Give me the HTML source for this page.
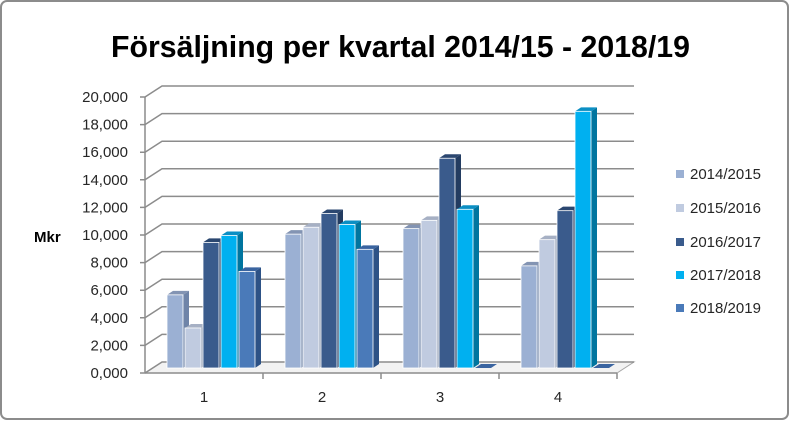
<!DOCTYPE html>
<html><head><meta charset="utf-8"><style>
html,body{margin:0;padding:0;background:#fff;}
svg{display:block;font-family:"Liberation Sans",sans-serif;}
</style></head><body>
<svg id="chart" width="794" height="425" viewBox="0 0 794 425" xmlns="http://www.w3.org/2000/svg">
<rect x="1" y="1" width="787" height="418" rx="6" fill="#fff" stroke="#8c8c8c" stroke-width="2"/>
<text x="111" y="57" font-size="31" font-weight="bold" textLength="579" lengthAdjust="spacingAndGlyphs" fill="#000">Försäljning per kvartal 2014/15 - 2018/19</text>
<text x="34" y="242" font-size="15" font-weight="bold" fill="#000">Mkr</text>
<g id="grid"></g><g id="bars"></g><g id="legend"></g>
</svg>
<script>
const categories = ["1","2","3","4"];
const seriesNames = ["2014/2015","2015/2016","2016/2017","2017/2018","2018/2019"];
const s2014 = [5300, 9700, 10100, 7400];
const s2015 = [2900, 10200, 10700, 9300];
const s2016 = [9100, 11200, 15200, 11400];
const s2017 = [9600, 10400, 11500, 18600];
const s2018 = [7000, 8600, 0, 0];
const yTicks = [0,2000,4000,6000,8000,10000,12000,14000,16000,18000,20000];
const yTickLabels = ["0,000","2,000","4,000","6,000","8,000","10,000","12,000","14,000","16,000","18,000","20,000"];

const series = [s2014,s2015,s2016,s2017,s2018];
const front = ["#9bb0d3","#c0cbe0","#3a5b8c","#00b0f0","#4a7ab9"];
const side  = ["#6f84a8","#909cb4","#233c61","#00759f","#2d5286"];
const topc  = ["#8394b3","#a6b0c4","#2b4770","#0b8fc4","#3a64a0"];
const NS="http://www.w3.org/2000/svg";
const X0=145, Y0=373, YH=276, DX=17, DY=-11, XW=472;
function y(v){return Y0 - v/20000*YH;}
function el(tag,attrs,parent){const e=document.createElementNS(NS,tag);for(const k in attrs)e.setAttribute(k,attrs[k]);parent.appendChild(e);return e;}
const grid=document.getElementById('grid');
// floor
const floor=el('polygon',{points:`${X0},${Y0} ${X0+XW},${Y0} ${X0+XW+DX},${Y0+DY} ${X0+DX},${Y0+DY}`,fill:'#f2f2f2',stroke:'#a6a6a6','stroke-width':1},grid);


yTicks.forEach((t,i)=>{
  const yy=y(t);
  const g=el('polyline',{points:`${X0-5},${yy} ${X0},${yy} ${X0+DX},${yy+DY} ${X0+XW+DX},${yy+DY}`,fill:'none',stroke:'#8c8c8c','stroke-width':1.5},grid);
  
  
  const tx=el('text',{x:128,y:yy+5,'font-size':15,'text-anchor':'end',fill:'#262626'},grid);
  tx.textContent=yTickLabels[i];
  
  
});
const ax=el('line',{x1:X0,y1:Y0,x2:X0,y2:y(20000),stroke:'#8c8c8c','stroke-width':1.5},grid);


const xa=el('line',{x1:X0,y1:Y0,x2:X0+XW,y2:Y0,stroke:'#8c8c8c','stroke-width':1.5},grid);


const catW=XW/categories.length;
const bars=document.getElementById('bars');
const BW=16, GAP=2, D=6, DD=-4, BASE=Y0-5;
categories.forEach((c,ci)=>{
  const cx=X0+catW*(ci+0.5);
  const tk=el('line',{x1:X0+catW*(ci+1),y1:Y0,x2:X0+catW*(ci+1),y2:Y0+6,stroke:'#8c8c8c','stroke-width':1.5},grid);
  
  
  const lb=el('text',{x:cx,y:Y0+29,'font-size':15,'text-anchor':'middle',fill:'#262626'},grid);
  lb.textContent=c;
  
  
  const start=cx-(series.length*(BW+GAP))/2+ 8;
  series.forEach((s,si)=>{
    const v=s[ci];
    const x=start+si*(BW+GAP);
    const base=BASE;
    const top=base - v/20000*YH;
    const g=el('g',{},bars);
    
    
    el('polygon',{points:`${x+BW},${top} ${x+BW+D},${top+DD} ${x+BW+D},${base+DD} ${x+BW},${base}`,fill:side[si]},g);
    el('polygon',{points:`${x},${top} ${x+D},${top+DD} ${x+BW+D},${top+DD} ${x+BW},${top}`,fill:topc[si]},g);
    if(v>0) el('rect',{x:x,y:top,width:BW,height:base-top,fill:front[si],stroke:'#fff','stroke-width':0.8},g);
  });
});
const leg=document.getElementById('legend');
const ly=[174,208,242,275,308];
seriesNames.forEach((n,i)=>{
  const g=el('g',{},leg);
  
  
  el('rect',{x:676,y:ly[i]-4,width:8,height:8,fill:front[i]},g);
  const t=el('text',{x:690,y:ly[i]+5,'font-size':15,fill:'#262626'},g);
  t.textContent=n;
});
</script>
</body></html>
